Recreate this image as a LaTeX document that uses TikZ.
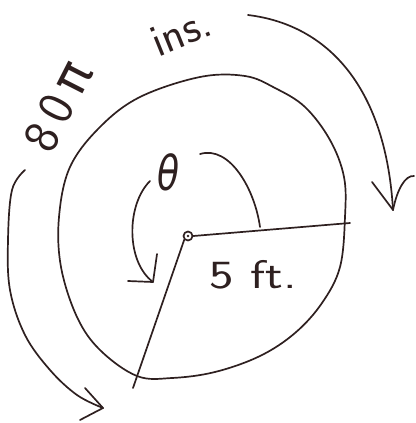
\documentclass[tikz,border=0pt]{standalone}
\usepackage{fontspec}
\newfontfamily\gkfont{DejaVu Sans}
\usetikzlibrary{calc}
\definecolor{ink}{HTML}{2E2020}
\begin{document}
\begin{tikzpicture}[x=1pt,y=-1pt,line cap=round,line join=round,
  inkline/.style={draw=ink,line width=1.7pt},
  lbl/.style={text=ink,inner sep=0pt,font=\sffamily}]
\useasboundingbox (0,0) rectangle (415,423);
% wheel
\draw[inkline] plot[smooth cycle,tension=0.6] coordinates {
 (245,76) (200,77) (140,97) (100,127) (70,167) (59,217) (61,267) (77,317)
 (100,350) (137,376) (172,378) (215,372) (260,356) (295,333) (322,303)
 (340,267) (345,217) (344,177) (330,140) (305,107) (275,88)};
% centre
\node[circle,inkline,inner sep=0pt,minimum size=9pt] (o) at (188,236) {};
\fill[ink] (o.center) circle (1.3pt);
\coordinate (r) at (350,223);
\coordinate (q) at (133,388);
\draw[inkline] (o.east) -- (r);
\draw[inkline] (o.south west) -- (q);
% angle arc
\coordinate (a1) at (200,154);
\coordinate (a2) at (260,227);
\draw[inkline] (a1) .. controls (230,145) and (255,190) .. (a2);
% theta
\node[lbl,xscale=0.75] (th) at (169,172) {\fontsize{48}{48}\selectfont\gkfont\itshape θ};
% curved arrow
\coordinate (c1) at (150,181);
\coordinate (c2) at (153,282);
\draw[inkline] (c1) .. controls (126,205) and (126,262) .. (c2);
\draw[inkline] (157,254) -- (c2) -- (128,281);
% 5 ft.
\node[lbl,xscale=1.3] (ft) at (253,275) {\fontsize{40}{40}\selectfont 5\,\,ft.};
% 80pi ins.
\node[lbl,rotate=63] (l1) at (58,106) {\fontsize{50}{50}\selectfont 8\,0\,{\gkfont π}};
\node[lbl,rotate=22] (l2) at (181,32) {\fontsize{46}{46}\selectfont ins.};
% big arrow top right
\coordinate (b1) at (248,15);
\coordinate (b2) at (393,210);
\draw[inkline] (b1) .. controls (330,25) and (386,90) .. (b2);
\draw[inkline] (372,182) -- (b2) .. controls (397,190) and (405,175) .. (414,176);
% big arrow bottom left
\coordinate (d1) at (25,170);
\coordinate (d2) at (103,408);
\draw[inkline] plot[smooth,tension=0.6] coordinates {(d1) (12,190) (8,240) (10,290) (25,335) (50,370) (77,395) (d2)};
\draw[inkline] (85,388) -- (d2) -- (80,420);
\end{tikzpicture}
\end{document}
